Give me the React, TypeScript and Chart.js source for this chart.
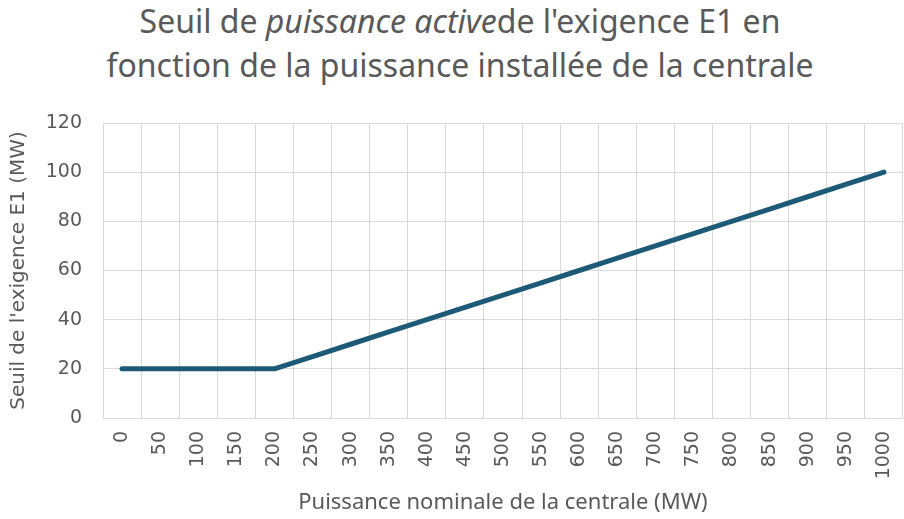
import React, { useEffect, useRef } from "react";
import { Chart, registerables } from "chart.js";

Chart.register(...registerables);

const categories = ["0", "50", "100", "150", "200", "250", "300", "350", "400", "450", "500", "550", "600", "650", "700", "750", "800", "850", "900", "950", "1000"];
const seuilValues = [20, 20, 20, 20, 20, 25, 30, 35, 40, 45, 50, 55, 60, 65, 70, 75, 80, 85, 90, 95, 100];
const yTicks = [0, 20, 40, 60, 80, 100, 120];

const TEXT = "#595959";
const GRID = "#d9d9d9";
const TITLE_FONT = "Noto Sans";
const AXIS_FONT = "DejaVu Sans";

export default function App() {
  const ref = useRef<HTMLCanvasElement | null>(null);
  useEffect(() => {
    document.body.style.margin = "0";
    document.body.style.overflow = "hidden";
    const canvas = ref.current;
    if (!canvas) return;
    const chart = new Chart(canvas, {
      type: "line",
      data: {
        labels: categories,
        datasets: [
          {
            label: "Seuil",
            data: seuilValues,
            borderColor: "#1d5a78",
            borderWidth: 5,
            pointRadius: 0,
            borderCapStyle: "round",
            borderJoinStyle: "round",
            tension: 0,
          },
        ],
      },
      options: {
        responsive: false,
        animation: false,
        layout: { padding: { top: 123, right: 12, left: 0, bottom: 0 } },
        plugins: { legend: { display: false }, tooltip: { enabled: false }, title: { display: false } },
        scales: {
          x: {
            type: "category",
            offset: true,
            grid: { offset: true, color: GRID, drawTicks: false },
            border: { color: GRID },
            ticks: {
              color: TEXT,
              font: { family: AXIS_FONT, size: 19 },
              minRotation: 90,
              maxRotation: 90,
              padding: 13,
              autoSkip: false,
            },
            title: {
              display: true,
              text: "Puissance nominale de la centrale (MW)",
              color: TEXT,
              font: { family: TITLE_FONT, size: 22 },
              padding: { top: 4, bottom: 3 },
            },
            afterFit: (scale: any) => {
              scale.height = 101;
            },
          },
          y: {
            min: 0,
            max: 120,
            afterBuildTicks: (scale: any) => {
              scale.ticks = yTicks.map((v) => ({ value: v }));
            },
            grid: { color: GRID, drawTicks: false },
            border: { color: GRID },
            ticks: {
              color: TEXT,
              font: { family: AXIS_FONT, size: 19 },
              padding: 21,
            },
            title: {
              display: true,
              text: "Seuil de l'exigence E1 (MW)",
              color: TEXT,
              font: { family: AXIS_FONT, size: 20 },
              padding: { top: 7, bottom: 0 },
            },
            afterFit: (scale: any) => {
              scale.width = 103;
            },
          },
        },
      },
    });
    return () => chart.destroy();
  }, []);

  return (
    <div style={{ position: "relative", width: 904, height: 519, overflow: "hidden", background: "#fff" }}>
      <div
        style={{
          position: "absolute",
          top: -1,
          left: 8,
          width: 904,
          textAlign: "center",
          fontFamily: TITLE_FONT,
          fontSize: 32,
          lineHeight: "44px",
          color: TEXT,
        }}
      >
        Seuil de <i>puissance active</i>de l'exigence E1 en
        <br />
        fonction de la puissance installée de la centrale
      </div>
      <canvas ref={ref} width={920} height={519} style={{ position: "absolute", left: 0, top: 0 }} />
    </div>
  );
}
